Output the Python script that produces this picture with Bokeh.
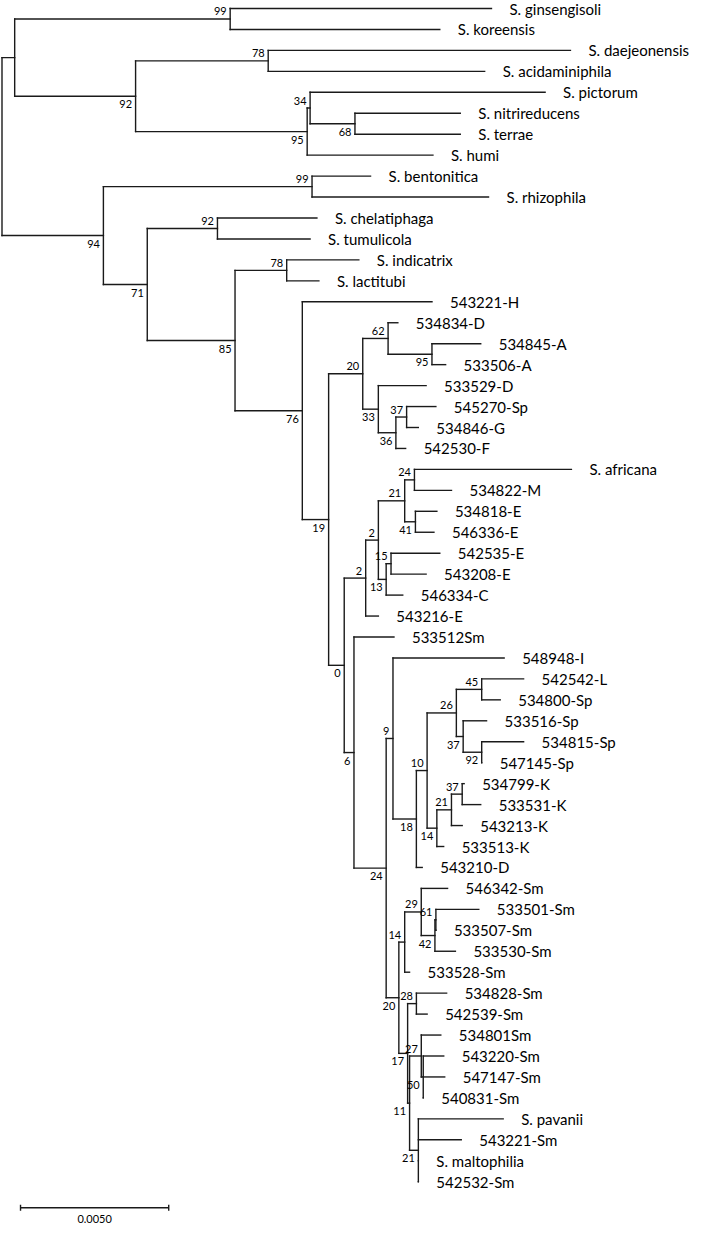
from bokeh.plotting import figure
from bokeh.models import Range1d, ColumnDataSource
from bokeh.core.properties import value
from bokeh.embed import file_html
from bokeh.resources import INLINE

# ---- tree data (preorder): node name, parent, branch length (subst./site), bootstrap ----
node = ["root", "nA", "n99a", "S. ginsengisoli", "S. koreensis", "n92a", "n78a",
        "S. daejeonensis", "S. acidaminiphila", "n95a", "n34", "S. pictorum", "n68",
        "S. nitrireducens", "S. terrae", "S. humi", "n94", "n99b", "S. bentonitica",
        "S. rhizophila", "n71", "n92b", "S. chelatiphaga", "S. tumulicola", "n85", "n78b",
        "S. indicatrix", "S. lactitubi", "n76", "543221-H", "n19", "n20a", "n62", "534834-D",
        "n95c", "534845-A", "533506-A", "n33", "533529-D", "n36", "n37a", "545270-Sp",
        "534846-G", "542530-F", "n0", "n2a", "n2b", "n21a", "n24a", "S. africana",
        "534822-M", "n41", "534818-E", "546336-E", "n13", "n15", "542535-E", "543208-E",
        "546334-C", "543216-E", "n6", "533512Sm", "n24b", "n9", "548948-I", "n18", "n10",
        "n26", "n45", "542542-L", "534800-Sp", "n37b", "533516-Sp", "n92c", "534815-Sp",
        "547145-Sp", "n14c", "n21c", "n37c", "534799-K", "533531-K", "543213-K", "533513-K",
        "543210-D", "n20b", "n14b", "n29", "546342-Sm", "n42", "n61", "533501-Sm",
        "533507-Sm", "533530-Sm", "533528-Sm", "n17", "n28", "534828-Sm", "542539-Sm",
        "n11", "n27", "534801Sm", "n50", "543220-Sm", "547147-Sm", "540831-Sm", "n21d",
        "S. pavanii", "543221-Sm", "S. maltophilia", "542532-Sm"]

parent = [None, "root", "nA", "n99a", "n99a", "nA", "n92a",
          "n78a", "n78a", "n92a", "n95a", "n34", "n34",
          "n68", "n68", "n95a", "root", "n94", "n99b",
          "n99b", "n94", "n71", "n92b", "n92b", "n71", "n85",
          "n78b", "n78b", "n85", "n76", "n76", "n19", "n20a", "n62",
          "n62", "n95c", "n95c", "n20a", "n33", "n33", "n36", "n37a",
          "n37a", "n36", "n19", "n0", "n2a", "n2b", "n21a", "n24a",
          "n24a", "n21a", "n41", "n41", "n2b", "n13", "n15", "n15",
          "n13", "n2a", "n0", "n6", "n6", "n24b", "n9", "n9", "n18",
          "n10", "n26", "n45", "n45", "n26", "n37b", "n37b", "n92c",
          "n92c", "n10", "n14c", "n21c", "n37c", "n37c", "n21c", "n14c",
          "n18", "n24b", "n20b", "n14b", "n29", "n29", "n42", "n61",
          "n61", "n42", "n14b", "n20b", "n17", "n28", "n28",
          "n17", "n11", "n27", "n27", "n50", "n50", "n50", "n11",
          "n21d", "n21d", "n21d", "n21d"]

length = [0.0, 0.000428, 0.007270, 0.008816, 0.007072, 0.004079, 0.004474,
          0.010197, 0.007303, 0.005789, 0.000099, 0.007928, 0.001513,
          0.003553, 0.003553, 0.004243, 0.003421, 0.007039, 0.001974,
          0.005954, 0.001480, 0.002368, 0.003355, 0.003125, 0.002961, 0.001743,
          0.002434, 0.001086, 0.002270, 0.004375, 0.000888, 0.001151, 0.000855, 0.000329,
          0.001480, 0.001645, 0.000461, 0.000526, 0.001612, 0.000592, 0.000362, 0.000987,
          0.000395, 0.000329, 0.000526, 0.000724, 0.000428, 0.000888, 0.000329, 0.005296,
          0.001250, 0.000362, 0.000724, 0.000625, 0.000263, 0.000164, 0.001645, 0.001184,
          0.000559, 0.000428, 0.000329, 0.001349, 0.001086, 0.000230, 0.003750, 0.000789, 0.000362,
          0.000987, 0.000855, 0.001414, 0.000625, 0.000230, 0.000789, 0.000625, 0.001414,
          0.0, 0.000329, 0.000493, 0.000362, 0.000066, 0.000625, 0.000362, 0.000230,
          0.000197, 0.000428, 0.000197, 0.000559, 0.000888, 0.000461, 0.000033, 0.001447,
          0.0, 0.000691, 0.000164, 0.000296, 0.000296, 0.001020, 0.000362,
          0.000066, 0.000395, 0.000658, 0.000066, 0.000691, 0.000724, 0.0, 0.000296,
          0.002862, 0.001447, 0.0, 0.0]

support = {"n99a": 99, "n92a": 92, "n78a": 78, "n95a": 95, "n34": 34, "n68": 68,
           "n94": 94, "n99b": 99, "n71": 71, "n92b": 92, "n85": 85, "n78b": 78,
           "n76": 76, "n19": 19, "n20a": 20, "n62": 62, "n95c": 95, "n33": 33,
           "n36": 36, "n37a": 37, "n0": 0, "n2a": 2, "n2b": 2, "n21a": 21,
           "n24a": 24, "n41": 41, "n13": 13, "n15": 15, "n6": 6, "n24b": 24,
           "n9": 9, "n18": 18, "n10": 10, "n26": 26, "n45": 45, "n37b": 37,
           "n92c": 92, "n14c": 14, "n21c": 21, "n37c": 37, "n20b": 20, "n14b": 14,
           "n29": 29, "n42": 42, "n61": 61, "n17": 17, "n28": 28, "n11": 11,
           "n27": 27, "n50": 50, "n21d": 21}

scale_length = 0.005
scale_text = "0.0050"

# ---- layout ----
W, H = 689, 1224
SX = 29640.0          # px per substitution unit
SY = 20.95            # px per leaf row
TOP = 8.0             # px of first row
LEFT = 1.5            # px of root

children = {n: [] for n in node}
for n, par in zip(node, parent):
    if par is not None:
        children[par].append(n)

xpos = {}
for n, par, L in zip(node, parent, length):
    xpos[n] = 0.0 if par is None else xpos[par] + L

leaves = [n for n in node if not children[n]]
ypos = {n: float(i) for i, n in enumerate(leaves)}
for n in reversed(node):
    if children[n]:
        ypos[n] = (ypos[children[n][0]] + ypos[children[n][-1]]) / 2.0

x0s, y0s, x1s, y1s = [], [], [], []
for n, par in zip(node, parent):
    if par is not None:
        x0s.append(xpos[par]); x1s.append(xpos[n]); y0s.append(ypos[n]); y1s.append(ypos[n])
    if children[n]:
        c = children[n]
        x0s.append(xpos[n]); x1s.append(xpos[n]); y0s.append(ypos[c[0]]); y1s.append(ypos[c[-1]])

px_x = 1.0 / SX
px_y = 1.0 / SY

p = figure(width=W, height=H, output_backend="svg", toolbar_location=None,
           x_range=Range1d(-LEFT * px_x, (W - LEFT) * px_x),
           y_range=Range1d((H - TOP) * px_y, -TOP * px_y),
           min_border=0)
p.axis.visible = False
p.grid.visible = False
p.outline_line_color = None
p.background_fill_color = "white"
p.border_fill_color = "white"

line_color = "#1a1a1a"
p.segment(x0=x0s, y0=y0s, x1=x1s, y1=y1s, line_color=line_color, line_width=1.4,
          line_cap="square")

# leaf labels
leaf_src = ColumnDataSource(dict(x=[xpos[n] + 18 * px_x for n in leaves],
                                 y=[ypos[n] for n in leaves], t=leaves))
p.text(x="x", y="y", text="t", source=leaf_src, text_font=value("Lato"),
       text_font_size=value("15px"), text_baseline="middle", text_align="left",
       text_color="#000000")

# bootstrap labels
bx, by, bt = [], [], []
for n in node:
    if n in support:
        par = parent[node.index(n)]
        sib = children[par]
        above = sib.index(n) == 0
        bx.append(xpos[n] - 3.5 * px_x)
        by.append(ypos[n] + (-7.5 if above else 8.0) * px_y)
        bt.append(str(support[n]))
p.text(x=bx, y=by, text=bt, text_font=value("Lato"), text_font_size=value("11px"),
       text_baseline="middle", text_align="right", text_color="#000000")

# scale bar
sb_x0 = 0.000625
sb_y = len(leaves) - 1 + 26 * px_y
p.segment(x0=[sb_x0, sb_x0, sb_x0 + scale_length],
          y0=[sb_y, sb_y - 3 * px_y, sb_y - 3 * px_y],
          x1=[sb_x0 + scale_length, sb_x0, sb_x0 + scale_length],
          y1=[sb_y, sb_y + 3 * px_y, sb_y + 3 * px_y],
          line_color=line_color, line_width=1.4)
p.text(x=[sb_x0 + scale_length / 2], y=[sb_y + 11 * px_y], text=[scale_text],
       text_font=value("Lato"), text_font_size=value("11px"),
       text_baseline="middle", text_align="center", text_color="#000000")

open("out.html", "w").write(file_html(p, INLINE))
